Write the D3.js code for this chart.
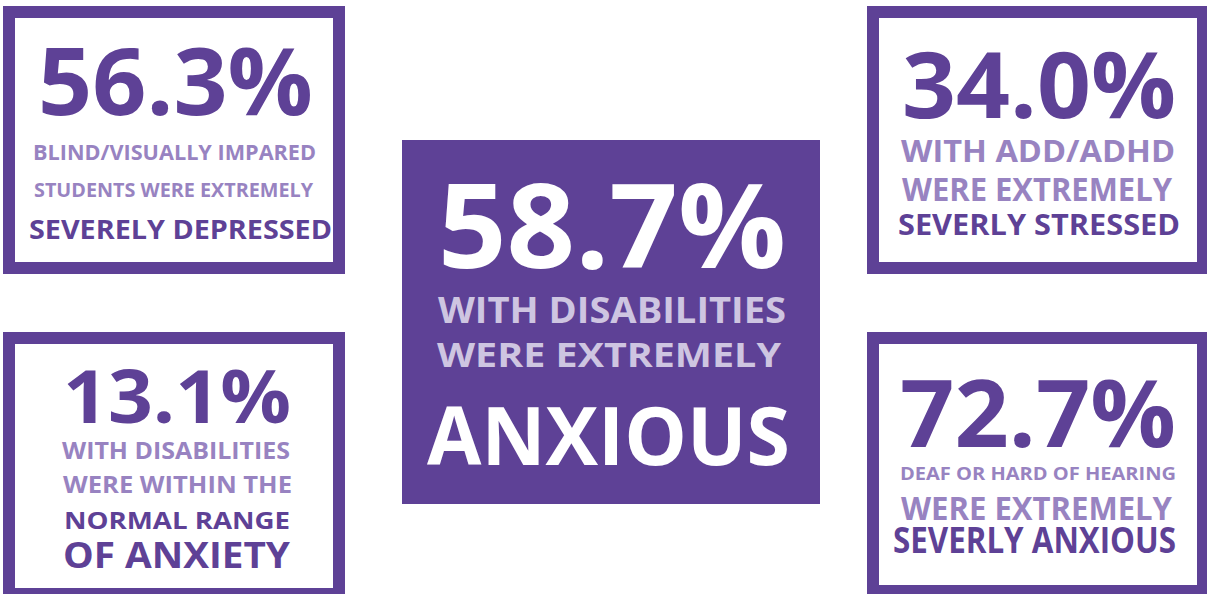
<!DOCTYPE html>
<html>
<head>
<meta charset="utf-8">
<script src="https://cdn.jsdelivr.net/npm/d3@7"></script>
<style>
  body { margin: 0; background: #fff; }
  text { font-family: "Open Sans", "Noto Sans", sans-serif; font-weight: 700; }
</style>
</head>
<body>
<div id="chart"></div>
<script>
// stats, one per card: top-left, top-right, centre, bottom-left, bottom-right
var values = [56.3, 34.0, 58.7, 13.1, 72.7];
var leadLines = [
    ["BLIND/VISUALLY IMPARED", "STUDENTS WERE EXTREMELY"],
    ["WITH ADD/ADHD", "WERE EXTREMELY"],
    ["WITH DISABILITIES", "WERE EXTREMELY"],
    ["WITH DISABILITIES", "WERE WITHIN THE"],
    ["DEAF OR HARD OF HEARING", "WERE EXTREMELY"]
];
var outcomeLines = [
    ["SEVERELY DEPRESSED"],
    ["SEVERLY STRESSED"],
    ["ANXIOUS"],
    ["NORMAL RANGE", "OF ANXIETY"],
    ["SEVERLY ANXIOUS"]
];

var width = 1207;
var height = 594;

var dark = "#5e4196";
var light = "#9883c1";
var lavender = "#cec5e1";

// card frames (outer edge) and whether the card is filled
var boxes = [
    { x: 3, y: 6, w: 342, h: 268, filled: false },
    { x: 867, y: 6, w: 342, h: 268, filled: false },
    { x: 402, y: 140, w: 418, h: 364, filled: true },
    { x: 3, y: 332, w: 342, h: 268, filled: false },
    { x: 867, y: 332, w: 342, h: 265, filled: false }
];

// per text line of each card: left, right, baseline, cap height
var lineBoxes = [
    [[38, 313, 115, 67], [33, 316, 160, 15], [34, 313, 197, 14], [29, 332, 239, 19]],
    [[902, 1176, 118, 65], [901, 1175, 162, 22], [902, 1172, 201, 23], [898, 1180, 235, 20]],
    [[438, 786, 268, 83], [438, 786, 323, 25], [437, 781, 367, 24], [427, 790, 465, 58]],
    [[63, 291, 423, 53], [62, 290, 459, 17], [63, 292, 493, 16], [64, 290, 529, 17], [63, 290, 568, 26]],
    [[900, 1176, 447, 67], [900, 1176, 480, 13], [901, 1172, 520, 23], [893, 1176, 553, 25]]
];

var capRatio = 0.714; // Open Sans cap height / em
var border = 12;
var fmt = d3.format(".1f");

var svg = d3.select("#chart").append("svg")
    .attr("width", width)
    .attr("height", height);

var cards = values.map(function(v, i) {
    var filled = boxes[i].filled;
    var lines = [{ text: fmt(v) + "%", color: filled ? "#fff" : dark }];
    leadLines[i].forEach(function(t) {
        lines.push({ text: t, color: filled ? lavender : light });
    });
    outcomeLines[i].forEach(function(t) {
        lines.push({ text: t, color: filled ? "#fff" : dark });
    });
    lines.forEach(function(l, j) { l.box = lineBoxes[i][j]; });
    return { box: boxes[i], lines: lines };
});

var card = svg.selectAll("g.card")
    .data(cards)
    .enter().append("g")
    .attr("class", "card");

card.append("rect")
    .attr("x", function(d) { return d.box.filled ? d.box.x : d.box.x + border / 2; })
    .attr("y", function(d) { return d.box.filled ? d.box.y : d.box.y + border / 2; })
    .attr("width", function(d) { return d.box.filled ? d.box.w : d.box.w - border; })
    .attr("height", function(d) { return d.box.filled ? d.box.h : d.box.h - border; })
    .attr("fill", function(d) { return d.box.filled ? dark : "#fff"; })
    .attr("stroke", function(d) { return d.box.filled ? "none" : dark; })
    .attr("stroke-width", border);

card.selectAll("text")
    .data(function(d) { return d.lines; })
    .enter().append("text")
    .attr("x", function(d) { return d.box[0]; })
    .attr("y", function(d) { return d.box[2]; })
    .attr("font-size", function(d) { return d.box[3] / capRatio; })
    .attr("textLength", function(d) { return d.box[1] - d.box[0]; })
    .attr("lengthAdjust", "spacingAndGlyphs")
    .attr("fill", function(d) { return d.color; })
    .text(function(d) { return d.text; });
</script>
</body>
</html>
